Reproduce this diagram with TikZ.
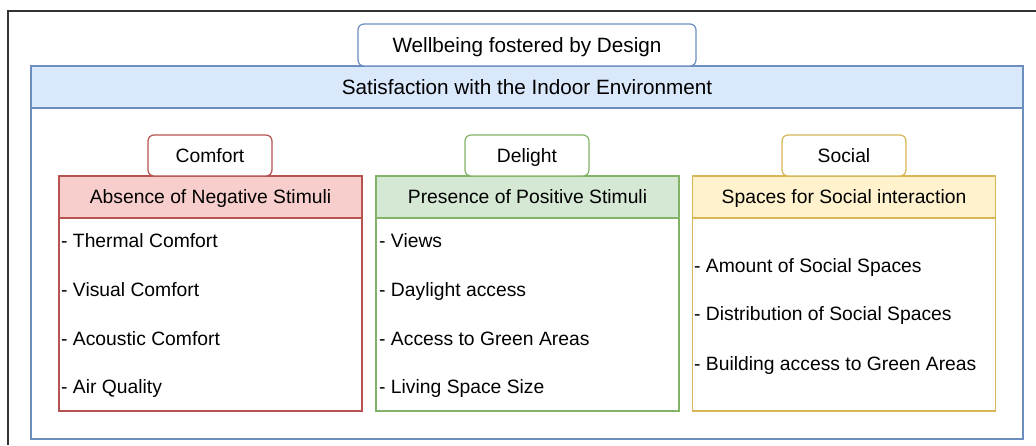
\documentclass[tikz,border=0pt]{standalone}
\usepackage{fontspec}
\setmainfont{Liberation Sans}
\definecolor{blueline}{HTML}{6C8EBF}
\definecolor{bluefill}{HTML}{DAE8FC}
\definecolor{redline}{HTML}{B85450}
\definecolor{redfill}{HTML}{F8CECC}
\definecolor{greenline}{HTML}{82B366}
\definecolor{greenfill}{HTML}{D5E8D4}
\definecolor{yellowline}{HTML}{D6B656}
\definecolor{yellowfill}{HTML}{FFF2CC}
\begin{document}
\begin{tikzpicture}[x=1pt,y=-1pt,
    every node/.style={font=\fontsize{19.3}{23}\selectfont,text height=13.8pt,text depth=0pt,inner sep=0pt},
    title/.style={font=\fontsize{20.7}{25}\selectfont,text height=14.8pt},
    box/.style={draw,line width=1.2pt,rectangle},
    tag/.style={box,fill=white,rounded corners=6pt,minimum width=124pt,minimum height=41pt},
    head/.style={box,minimum width=303pt,minimum height=42pt},
    body/.style={box,fill=white,minimum width=303pt,minimum height=193pt},
    item/.style={anchor=west}]
  \useasboundingbox (0,0) rectangle (1036,445);
  \draw[line width=1.2pt,black!80] (1036,11) -- (8,11) -- (8,445);
  \node[box,draw=blueline,fill=white,minimum width=992pt,minimum height=373pt] (panel) at (527,252.5) {};
  \node[box,title,draw=blueline,fill=bluefill,minimum width=992pt,minimum height=42pt] (sat) at (527,87) {Satisfaction with the Indoor Environment};
  \node[box,title,draw=blueline,fill=white,rounded corners=6pt,minimum width=338pt,minimum height=42pt] (wb) at (527,45) {Wellbeing fostered by Design};

  \node[body,draw=redline] (negbody) at (210.5,314.5) {};
  \node[head,draw=redline,fill=redfill] (neg) at (210.5,197) {Absence of Negative Stimuli};
  \node[tag,draw=redline] (comfort) at (210,155.5) {Comfort};
  \node[item] (thermal) at (61,241) {- Thermal Comfort};
  \node[item] (visual) at (61,290) {- Visual Comfort};
  \node[item] (acoustic) at (61,339) {- Acoustic Comfort};
  \node[item] (air) at (61,387) {- Air Quality};

  \node[body,draw=greenline] (posbody) at (527.5,314.5) {};
  \node[head,draw=greenline,fill=greenfill] (pos) at (527.5,197) {Presence of Positive Stimuli};
  \node[tag,draw=greenline] (delight) at (527,155.5) {Delight};
  \node[item] (views) at (379,241) {- Views};
  \node[item] (daylight) at (379,290) {- Daylight access};
  \node[item] (green) at (379,339) {- Access to Green Areas};
  \node[item] (size) at (379,387) {- Living Space Size};

  \node[body,draw=yellowline] (socbody) at (844,314.5) {};
  \node[head,draw=yellowline,fill=yellowfill] (soc) at (844,197) {Spaces for Social interaction};
  \node[tag,draw=yellowline] (social) at (844,155.5) {Social};
  \node[item] (amount) at (694,266) {- Amount of Social Spaces};
  \node[item] (distrib) at (694,314) {- Distribution of Social Spaces};
  \node[item] (access) at (694,364) {- Building access to Green Areas};
\end{tikzpicture}
\end{document}
